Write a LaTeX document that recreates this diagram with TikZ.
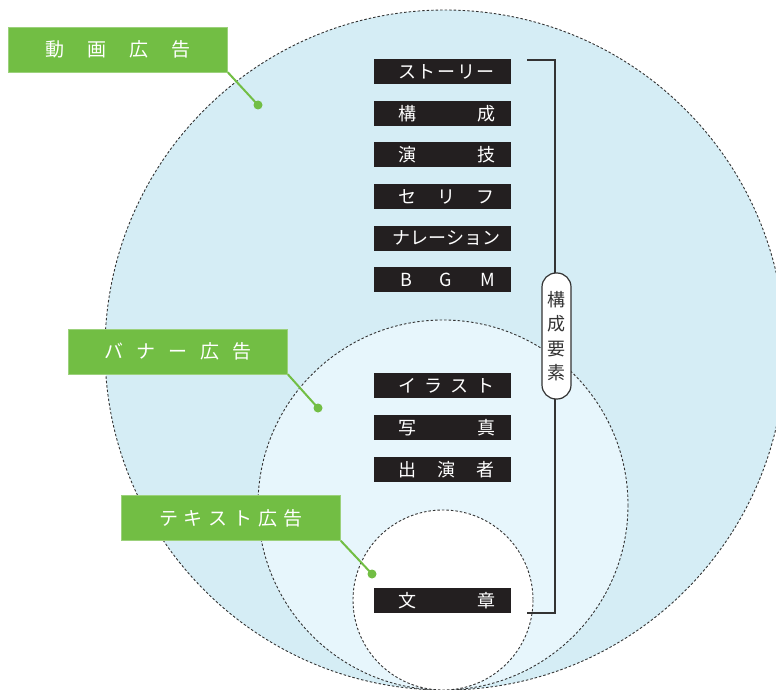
\documentclass[tikz,border=0pt]{standalone}
\usepackage{fontspec}
\newfontfamily\jp{Noto Sans CJK JP}
\definecolor{bigc}{HTML}{D5EDF5}
\definecolor{midc}{HTML}{E7F6FC}
\definecolor{grn}{HTML}{72BE44}
\definecolor{barc}{HTML}{231F20}
\definecolor{linec}{HTML}{333333}
\tikzset{
  ring/.style={draw=linec, line width=0.9pt, dash pattern=on 2.5pt off 2pt},
  glabel/.style={fill=grn, draw=grn!70!white, line width=0.6pt, minimum width=219pt, minimum height=45pt, inner sep=0pt, text=white, font=\jp\fontsize{19}{19}\selectfont},
  gline/.style={draw=grn, line width=2pt},
  gdot/.style={circle, fill=grn, minimum size=9pt, inner sep=0pt},
  bar/.style={fill=barc, minimum width=137pt, minimum height=25pt, inner sep=0pt, text=white, font=\jp\fontsize{18}{18}\selectfont},
  pill/.style={draw=linec, fill=white, line width=1.2pt, rounded corners=14pt, minimum width=29pt, minimum height=126pt, inner sep=0pt, align=center, text=linec, font=\jp\fontsize{18}{24.5}\selectfont},
  brk/.style={draw=linec, line width=2pt}
}
\newcommand{\bartext}[2]{\hspace*{8pt}\makebox[#1]{#2}}
\begin{document}
\begin{tikzpicture}[x=1pt,y=-1pt]
\useasboundingbox (0,0) rectangle (776,690);
% circles
\path[ring, fill=bigc] (445,350) circle (340);
\path[ring, fill=midc] (443,505) circle (185);
\path[ring, fill=white] (443,600) circle (90);
% green labels
\node[gdot] (d1) at (258,105) {};
\node[gdot] (d2) at (318,408) {};
\node[gdot] (d3) at (372,574) {};
\node[glabel] (g1) at (118,49.5) {\makebox[145pt]{動\hfill 画\hfill 広\hfill 告}};
\node[glabel] (g2) at (178,351.5) {\makebox[147pt]{バ\hfill ナ\hfill ー\hfill 広\hfill 告}};
\node[glabel] (g3) at (231,518) {\makebox[144pt]{テ\hfill キ\hfill ス\hfill ト\hfill 広\hfill 告}};
\draw[gline] (g1.south east) -- (d1.center);
\draw[gline] (g2.south east) -- (d2.center);
\draw[gline] (g3.south east) -- (d3.center);
% bars
\node[bar] (b1) at (442.5,71.5) {\bartext{97pt}{ス\hfill ト\hfill ー\hfill リ\hfill ー}};
\node[bar] (b2) at (442.5,113.5) {\bartext{97pt}{構\hfill 成}};
\node[bar] (b3) at (442.5,154.5) {\bartext{97pt}{演\hfill 技}};
\node[bar] (b4) at (442.5,196.5) {\bartext{97pt}{セ\hfill リ\hfill フ}};
\node[bar] (b5) at (442.5,238.5) {\bartext{108pt}{ナ\hfill レ\hfill ー\hfill シ\hfill ョ\hfill ン}};
\node[bar] (b6) at (442.5,279.5) {\bartext{97pt}{\hspace*{2pt}B\hfill G\hfill M}};
\node[bar] (b7) at (442.5,385.5) {\bartext{97pt}{イ\hfill ラ\hfill ス\hfill ト}};
\node[bar] (b8) at (442.5,427.5) {\bartext{97pt}{写\hfill 真}};
\node[bar] (b9) at (442.5,469.5) {\bartext{97pt}{出\hfill 演\hfill 者}};
\node[bar] (b10) at (442.5,600.5) {\bartext{97pt}{文\hfill 章}};
% bracket
\coordinate (bt) at (527,60);
\coordinate (bb) at (527,613);
\draw[brk] (bt) -- ++(28,0) coordinate (btr) -- (btr |- bb) -- (bb);
\node[pill] (p) at (556.5,336) {構\\成\\要\\素};
\end{tikzpicture}
\end{document}
